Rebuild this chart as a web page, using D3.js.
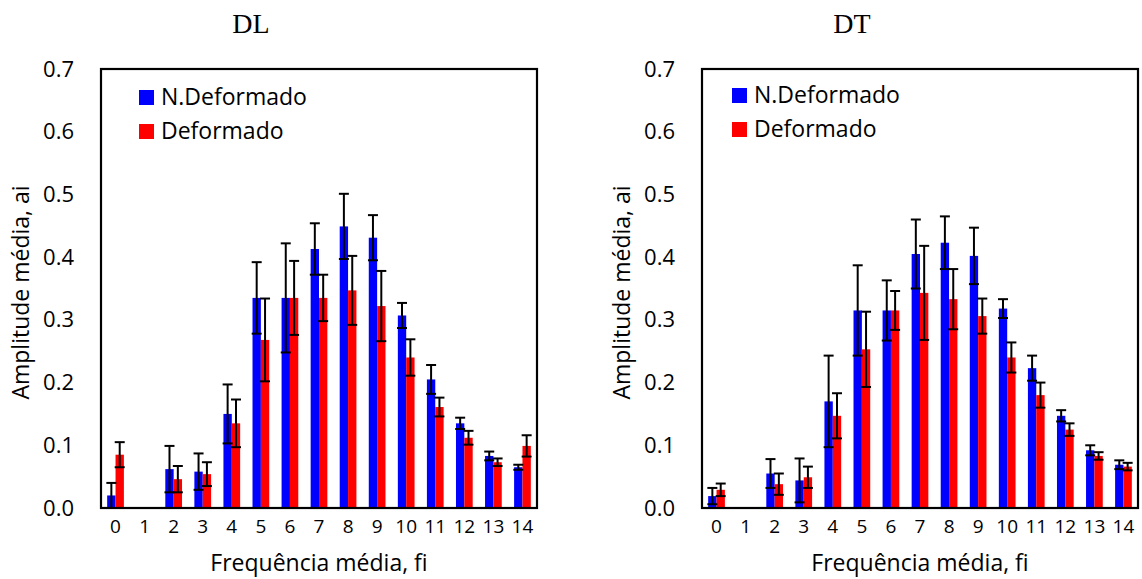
<!DOCTYPE html>
<html><head><meta charset="utf-8">
<script src="https://cdn.jsdelivr.net/npm/d3@7"></script>
<style>html,body{margin:0;padding:0;background:#fff;}svg{display:block;}</style>
</head><body>
<svg id="c" width="1142" height="579"></svg>
<script>
const categories = ["0","1","2","3","4","5","6","7","8","9","10","11","12","13","14"];
const seriesNames = ["N.Deformado","Deformado"];
const seriesColors = ["#0000ff","#ff0000"];
const yTicks = [0,0.1,0.2,0.3,0.4,0.5,0.6,0.7];

const dlNDef    = [0.020,null,0.062,0.058,0.150,0.335,0.335,0.413,0.449,0.431,0.307,0.205,0.135,0.083,0.065];
const dlNDefErr = [0.020,null,0.037,0.029,0.047,0.057,0.087,0.041,0.052,0.036,0.020,0.023,0.009,0.007,0.004];
const dlDef     = [0.085,null,0.046,0.054,0.135,0.268,0.335,0.335,0.347,0.322,0.240,0.161,0.112,0.073,0.099];
const dlDefErr  = [0.020,null,0.021,0.019,0.038,0.066,0.059,0.037,0.055,0.056,0.029,0.015,0.011,0.006,0.017];

const dtNDef    = [0.019,null,0.055,0.044,0.170,0.315,0.315,0.405,0.423,0.402,0.318,0.223,0.147,0.092,0.069];
const dtNDefErr = [0.013,null,0.023,0.035,0.073,0.072,0.048,0.055,0.042,0.045,0.015,0.020,0.009,0.008,0.007];
const dtDef     = [0.029,null,0.038,0.049,0.147,0.253,0.315,0.343,0.333,0.306,0.240,0.180,0.125,0.083,0.066];
const dtDefErr  = [0.010,null,0.017,0.017,0.036,0.060,0.031,0.075,0.048,0.028,0.024,0.020,0.010,0.006,0.006];

const panels = [
  {title:"DL", left:101, legX:38, legY:21, values:[dlNDef, dlDef], errs:[dlNDefErr, dlDefErr]},
  {title:"DT", left:702, legX:30, legY:19, values:[dtNDef, dtDef], errs:[dtNDefErr, dtDefErr]}
];

const svg = d3.select("#c");
const W = 436, plotTop = 69, H = 439;
const sans = "'Open Sans', sans-serif";

panels.forEach(p => {
  const g = svg.append("g").attr("transform", `translate(${p.left},${plotTop})`);
  const x = d3.scaleBand().domain(categories).range([0, W]).padding(0);
  const step = x.bandwidth();
  const xs = d3.scaleBand().domain(d3.range(seriesNames.length))
               .range([step*0.2125, step*0.7875]).padding(0);
  const y = d3.scaleLinear().domain([0, 0.7]).range([H, 0]);

  // bars
  p.values.forEach((vals, si) => {
    g.append("g").selectAll("rect")
      .data(categories.map((c,i)=>({c, v:vals[i]})).filter(d=>d.v!=null))
      .join("rect")
      .attr("x", d => x(d.c) + xs(si))
      .attr("width", xs.bandwidth())
      .attr("y", d => y(d.v))
      .attr("height", d => y(0) - y(d.v))
      .attr("fill", seriesColors[si]);
  });
  // error bars
  p.values.forEach((vals, si) => {
    const data = categories.map((c,i)=>({c, v:vals[i], e:p.errs[si][i]})).filter(d=>d.v!=null);
    const eg = g.append("g").attr("stroke","#000").attr("stroke-width",2);
    const cx = d => x(d.c) + xs(si) + xs.bandwidth()/2;
    eg.selectAll("line.v").data(data).join("line").attr("class","v")
      .attr("x1", cx).attr("x2", cx)
      .attr("y1", d => y(Math.max(0, d.v - d.e))).attr("y2", d => y(d.v + d.e));
    eg.selectAll("line.t").data(data).join("line").attr("class","t")
      .attr("x1", d => cx(d)-5).attr("x2", d => cx(d)+5)
      .attr("y1", d => y(d.v + d.e)).attr("y2", d => y(d.v + d.e));
    eg.selectAll("line.b").data(data.filter(d => d.v - d.e > 0.003)).join("line").attr("class","b")
      .attr("x1", d => cx(d)-5).attr("x2", d => cx(d)+5)
      .attr("y1", d => y(d.v - d.e)).attr("y2", d => y(d.v - d.e));
  });

  // frame
  g.append("rect").attr("x",0).attr("y",0).attr("width",W).attr("height",H)
    .attr("fill","none").attr("stroke","#000").attr("stroke-width",2.2);

  // y axis labels
  const ya = g.append("g").call(d3.axisLeft(y).tickValues(yTicks).tickFormat(d3.format(".1f")).tickSize(0).tickPadding(27));
  ya.select(".domain").remove();
  ya.selectAll("text").attr("font-family", sans).attr("font-size", 22).attr("fill","#000");

  // x axis labels
  const xa = g.append("g").attr("transform",`translate(0,${H})`)
    .call(d3.axisBottom(x).tickSize(0).tickPadding(12));
  xa.select(".domain").remove();
  xa.selectAll("text").attr("font-family", sans).attr("font-size", 19).attr("fill","#000");

  // axis titles
  g.append("text").attr("x", W/2).attr("y", H + 63)
    .attr("text-anchor","middle").attr("font-family", sans).attr("font-size", 23)
    .text("Frequência média, fi");
  g.append("text").attr("transform", `translate(${-72},${H/2+4}) rotate(-90)`)
    .attr("text-anchor","middle").attr("font-family", sans).attr("font-size", 23)
    .text("Amplitude média, ai");

  // chart title
  g.append("text").attr("x", W/2 - 68).attr("y", -36)
    .attr("text-anchor","middle").attr("font-family","'Liberation Serif','Times New Roman',serif")
    .attr("font-size", 28).text(p.title);

  // legend
  const lg = g.append("g").attr("transform", `translate(${p.legX},${p.legY})`);
  seriesNames.forEach((n, i) => {
    lg.append("rect").attr("x",0).attr("y", i*34).attr("width",15).attr("height",15).attr("fill", seriesColors[i]);
    lg.append("text").attr("x",22).attr("y", i*34 + 15).attr("font-family", sans).attr("font-size", 23)
      .attr("fill","#000").text(n);
  });
});
</script>
</body></html>
